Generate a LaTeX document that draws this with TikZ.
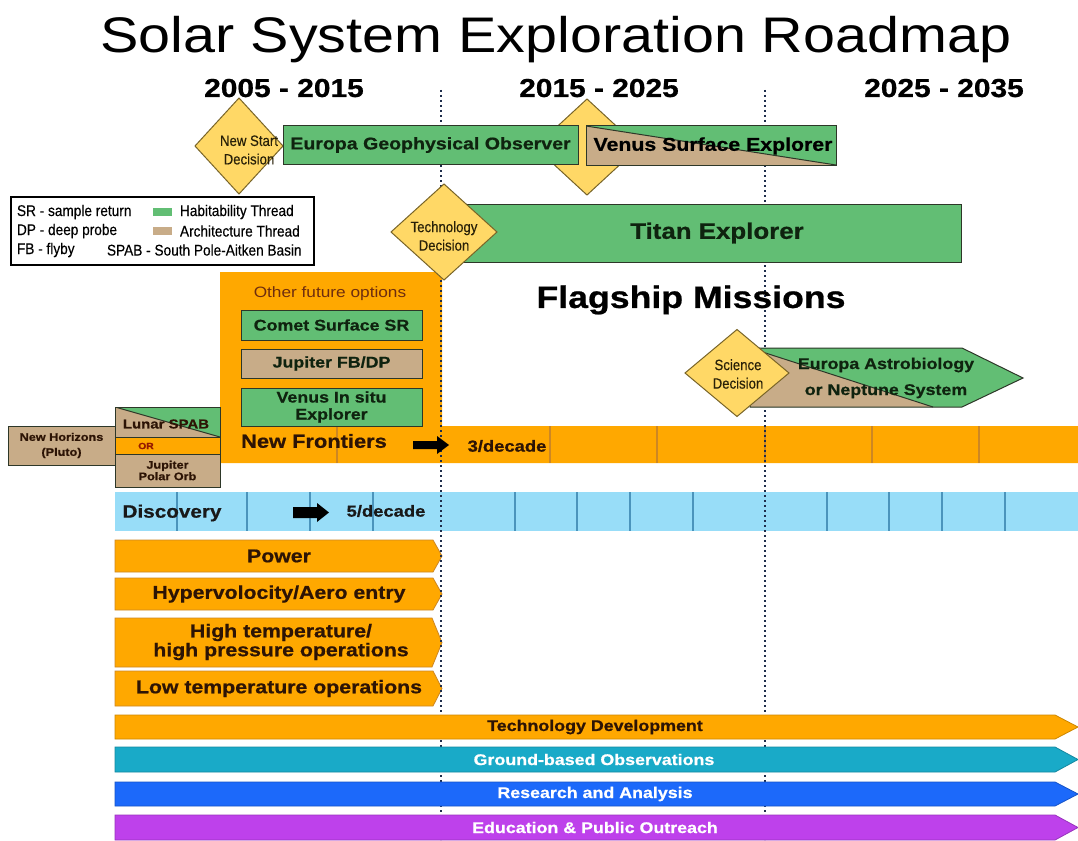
\documentclass[tikz,border=0pt]{standalone}
\usepackage{fontspec}
\setmainfont{Liberation Sans}[FakeStretch=1.15, BoldFeatures={FakeBold=0.7}]
\newfontfamily\narrowf{Liberation Sans}[FakeStretch=0.88, FakeBold=0.3]
\usetikzlibrary{shapes.geometric}
\definecolor{ylw}{RGB}{255,216,102}
\definecolor{diab}{RGB}{120,100,40}
\definecolor{grn}{RGB}{98,190,116}
\definecolor{tanc}{RGB}{200,172,136}
\definecolor{orng}{RGB}{255,168,0}
\definecolor{orngd}{RGB}{205,135,35}
\definecolor{lblue}{RGB}{152,221,248}
\definecolor{lblued}{RGB}{75,148,188}
\definecolor{cteal}{RGB}{25,170,200}
\definecolor{cblue}{RGB}{28,105,250}
\definecolor{cpurp}{RGB}{190,65,235}
\definecolor{dotc}{RGB}{30,45,75}
\definecolor{bord}{RGB}{45,55,40}
\definecolor{gtxt}{RGB}{15,35,15}
\definecolor{otxt}{RGB}{45,20,5}
\definecolor{brn}{RGB}{110,45,15}
\definecolor{ortxt}{RGB}{150,25,0}
\newcommand\fsz[2]{\fontsize{#1}{#2}\selectfont}
\begin{document}
\begin{tikzpicture}[x=1pt,y=-1pt,
  lbl/.style={inner sep=0pt, outer sep=0pt, align=center},
  boxs/.style={draw=bord, line width=1pt, inner sep=0pt, outer sep=0pt},
  dia/.style={diamond, draw=diab, fill=ylw, line width=1pt, inner sep=0pt, outer sep=0pt},
  splitbox/.style={path picture={
      \fill[tanc] (path picture bounding box.north west) -- (path picture bounding box.south west) -- (path picture bounding box.south east) -- cycle;
      \draw[bord, line width=1pt] (path picture bounding box.north west) -- (path picture bounding box.south east);}},
  dotline/.style={draw=dotc, line width=2.2pt, dash pattern=on 2.2pt off 2.8pt},
  nftick/.style={draw=orngd, line width=1.5pt},
  dtick/.style={draw=lblued, line width=2pt},
  parrow/.style={fill=orng, draw=orngd, line width=0.8pt},
  barrow/.style={fill=#1, draw=#1!80!black, line width=0.8pt},
  difont/.style={font=\narrowf\fsz{15}{18.5}, text={rgb,255:red,40;green,32;blue,8}},
  legfont/.style={font=\narrowf\fsz{15.5}{18}},
  ptxt/.style={font=\bfseries\fsz{18.5}{19}, text=otxt},
  btxt/.style={font=\bfseries\fsz{15.5}{18}},
  gbtxt/.style={font=\bfseries\fsz{15.5}{18}, text=gtxt}
]
\useasboundingbox (0,0) rectangle (1078,840);
\fill[white] (0,0) rectangle (1078,840);

% title and decades
\node[lbl, anchor=base, font=\fsz{50}{56}] (title) at (556,53) {Solar System Exploration Roadmap};
\node[lbl, anchor=base, font=\bfseries\fsz{26}{30}] (dec1) at (284,97) {2005 - 2015};
\node[lbl, anchor=base, font=\bfseries\fsz{26}{30}] (dec2) at (599,97) {2015 - 2025};
\node[lbl, anchor=base, font=\bfseries\fsz{26}{30}] (dec3) at (944,97) {2025 - 2035};

% New Frontiers region
\fill[orng] (220,272) -- (442,272) -- (442,426) -- (1078,426) -- (1078,463) -- (220,463) -- cycle;
\foreach \x in {337,550,657,765,872,979} \draw[nftick] (\x,426) -- (\x,463);

% Discovery bar
\fill[lblue] (115,492) rectangle (1078,531);
\foreach \x in {177,247,310,373,515,577,630,693,827,889,942,1005} \draw[dtick] (\x,492) -- (\x,531);

% technology arrows
\path[parrow] (115,540) -- (433,540) -- (442,556) -- (433,572) -- (115,572) -- cycle;
\path[parrow] (115,578) -- (433,578) -- (442,594) -- (433,610) -- (115,610) -- cycle;
\path[parrow] (115,618) -- (432,618) -- (442,642.5) -- (432,667) -- (115,667) -- cycle;
\path[parrow] (115,671) -- (433,671) -- (442,688.5) -- (433,706) -- (115,706) -- cycle;

% decade separators
\coordinate (d1t) at (441,90);
\coordinate (d1b) at (441,840);
\coordinate (d2t) at (765,90);
\coordinate (d2b) at (765,840);
\draw[dotline] (d1t) -- (d1b);
\draw[dotline] (d2t) -- (d2b);

% long bars
\path[barrow=orng] (115,715) -- (1055,715) -- (1078,727) -- (1055,739) -- (115,739) -- cycle;
\path[barrow=cteal] (115,747) -- (1055,747) -- (1078,759.5) -- (1055,772) -- (115,772) -- cycle;
\path[barrow=cblue] (115,782) -- (1055,782) -- (1078,794) -- (1055,806) -- (115,806) -- cycle;
\path[barrow=cpurp] (115,815) -- (1055,815) -- (1078,827.5) -- (1055,840) -- (115,840) -- cycle;

% flagship row 1
\node[dia, minimum width=104, minimum height=96] (vdd) at (587,147) {};
\node[dia, minimum width=88, minimum height=96] (nsd) at (239,146) {};
\node[boxs, fill=grn, minimum width=295, minimum height=38, gbtxt, font=\bfseries\fsz{17}{19}] (ego) at (430.5,145) {Europa Geophysical Observer};
\node[boxs, fill=grn, splitbox, minimum width=250, minimum height=39] (vse) at (711,145.5) {};
\node[lbl, font=\bfseries\fsz{18.5}{20}, text=black] (vseT) at (713,146) {Venus Surface Explorer};
\node[lbl, difont] (nsdT) at (249,150) {New Start\\Decision};

% Titan
\node[boxs, fill=grn, minimum width=506, minimum height=58] (titan) at (708,233) {};
\node[lbl, font=\bfseries\fsz{22.5}{25}, text=gtxt] (titanT) at (717,233) {Titan Explorer};
\node[dia, minimum width=106, minimum height=96] (tdd) at (444,232) {};
\node[lbl, difont] (tddT) at (444,236) {Technology\\Decision};

% legend
\node[boxs, draw=black, line width=1.3pt, fill=white, minimum width=303, minimum height=68] (legend) at (162.5,231) {};
\node[lbl, anchor=west, legfont] (lg1) at (17,212) {SR - sample return};
\fill[grn] (153,208) rectangle (172,216);
\node[lbl, anchor=west, legfont] (lg2) at (180,212) {Habitability Thread};
\node[lbl, anchor=west, legfont] (lg3) at (17,231) {DP - deep probe};
\fill[tanc] (153,227) rectangle (172,235);
\node[lbl, anchor=west, legfont] (lg4) at (180,231) {Architecture Thread};
\node[lbl, anchor=west, legfont] (lg5) at (17,250) {FB - flyby};
\node[lbl, anchor=west, legfont] (lg6) at (107,250) {SPAB - South Pole-Aitken Basin};

% flagship label
\node[lbl, font=\bfseries\fsz{31}{34}] (flag) at (691,300) {Flagship Missions};

% other future options
\node[lbl, font=\fsz{15}{17}, text=brn] (ofo) at (330,294) {Other future options};
\node[boxs, fill=grn, minimum width=181, minimum height=30, gbtxt, font=\bfseries\fsz{15.5}{18}] (comet) at (331.5,325) {Comet Surface SR};
\node[boxs, fill=tanc, minimum width=181, minimum height=29, gbtxt, font=\bfseries\fsz{15.5}{18}] (jfb) at (331.5,363.5) {Jupiter FB/DP};
\node[boxs, fill=grn, minimum width=181, minimum height=38, gbtxt, align=center, font=\bfseries\fsz{15.5}{17}] (vis) at (331.5,407) {Venus In situ\\Explorer};

% New Frontiers labels
\node[lbl, font=\bfseries\fsz{19}{21}, text=otxt] (nft) at (314,441) {New Frontiers};
\fill[black] (413,441) -- (437,441) -- (437,436) -- (449,445) -- (437,454) -- (437,449) -- (413,449) -- cycle;
\node[lbl, font=\bfseries\fsz{16}{18}, text=otxt] (nfr) at (507,446) {3/decade};

% early missions
\node[boxs, fill=tanc, minimum width=107, minimum height=39, align=center, font=\bfseries\fsz{11}{15}, text=otxt] (nh) at (61.5,445.5) {New Horizons\\(Pluto)};
\node[boxs, fill=grn, splitbox, minimum width=105, minimum height=30] (lsp) at (167.5,422) {};
\node[lbl, font=\bfseries\fsz{13}{15}, text=otxt] (lspT) at (166,424) {Lunar SPAB};
\node[boxs, fill=orng, minimum width=105, minimum height=17] (orb) at (167.5,445.5) {};
\node[lbl, font=\bfseries\fsz{9}{10}, text=ortxt] (orT) at (146,446) {OR};
\node[boxs, fill=tanc, minimum width=105, minimum height=33, align=center, font=\bfseries\fsz{11}{11.5}, text=otxt] (jpo) at (167.5,470.5) {Jupiter\\Polar Orb};

% Discovery labels
\node[lbl, font=\bfseries\fsz{18}{20}, text=black!90] (disc) at (172,513) {Discovery};
\fill[black] (293,507) -- (317,507) -- (317,503) -- (329,512.5) -- (317,522) -- (317,518) -- (293,518) -- cycle;
\node[lbl, font=\bfseries\fsz{16}{18}, text=black!90] (drate) at (386,511) {5/decade};

% Europa astrobiology
\fill[grn] (750,348) -- (962,348) -- (1023,378) -- (962,407) -- (750,407) -- cycle;
\fill[tanc] (750,348) -- (933,407) -- (750,407) -- cycle;
\draw[bord, line width=1pt] (750,348) -- (933,407);
\draw[bord, line width=1pt] (750,348) -- (962,348) -- (1023,378) -- (962,407) -- (750,407) -- cycle;
\node[lbl, font=\bfseries\fsz{15.5}{26}, text=gtxt] (eab) at (886,378) {Europa Astrobiology\\or Neptune System};
\node[dia, minimum width=104, minimum height=87] (sdd) at (737,373) {};
\node[lbl, difont] (sddT) at (738,374) {Science\\Decision};

% technology arrow labels
\node[lbl, ptxt] (pw) at (279,556) {Power};
\node[lbl, ptxt] (hv) at (279,594) {Hypervolocity/Aero entry};
\node[lbl, ptxt, font=\bfseries\fsz{18.5}{19}] (ht) at (281,642) {High temperature/\\high pressure operations};
\node[lbl, ptxt] (lt) at (279,688.5) {Low temperature operations};

% long bar labels
\node[lbl, btxt, text=otxt] (td) at (595,727) {Technology Development};
\node[lbl, btxt, text=white] (gb) at (594,759.5) {Ground-based Observations};
\node[lbl, btxt, text=white] (ra) at (595,794) {Research and Analysis};
\node[lbl, btxt, text=white] (eo) at (595,827.5) {Education \& Public Outreach};
\end{tikzpicture}
\end{document}
